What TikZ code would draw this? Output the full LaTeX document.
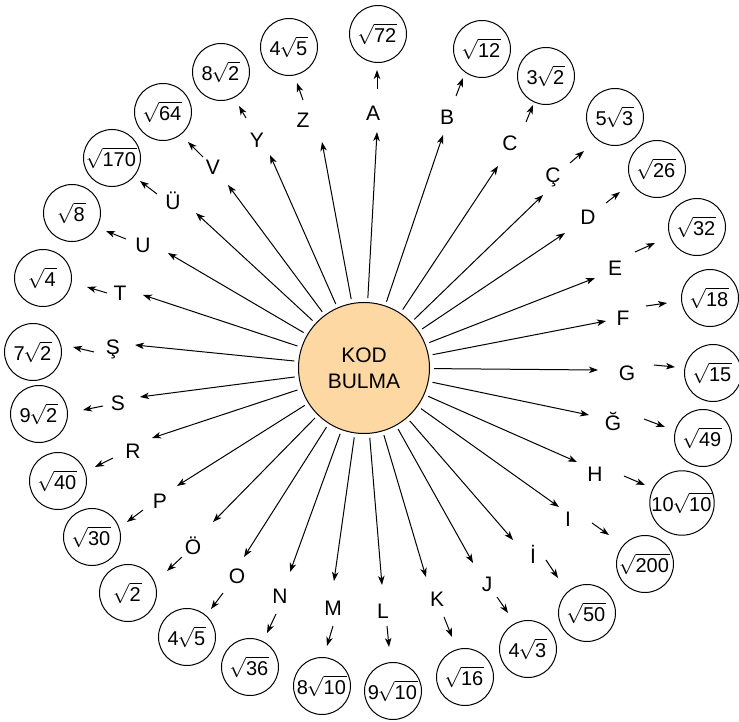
\documentclass[tikz,border=0pt]{standalone}
\usepackage{fix-cm}
\usepackage{amsmath}
\usepackage{fontspec}
\setmainfont{Liberation Sans}
\usetikzlibrary{arrows.meta}
\definecolor{kodfill}{RGB}{253,216,163}
\newcommand\valr[2]{$\text{#1}\mkern-1mu\sqrt{\text{#2}\mkern1mu}$}
\begin{document}
\begin{tikzpicture}[x=1pt,y=-1pt,
  arr/.style={line width=1pt,-{Stealth[length=9pt,width=6.5pt,inset=2.5pt]}},
  letterlbl/.style={anchor=base,inner sep=0pt,font=\fontsize{21}{24}\selectfont},
  valbox/.style={draw,circle,line width=1pt,minimum size=57pt,inner sep=0pt,font=\fontsize{20}{23}\selectfont},
  kodbox/.style={draw,circle,line width=1pt,fill=kodfill,minimum size=131pt,inner sep=0pt,align=center,font=\fontsize{21}{26}\selectfont}]
\useasboundingbox (0,0) rectangle (739,722);
\node[kodbox] (kod) at (364,368) {KOD\\BULMA};
\foreach \i/\lt/\lx/\ly/\tx/\ty/\ax/\ay/\bx/\by/\vx/\vy/\val in {
 1/A/373/121/377/132/377/89/377/70/378/34/{\valr{}{72}},
 2/B/447/125/443/135/456/96/463/78/482/49/{\valr{}{12}},
 3/C/510/151/498/166/526/122/533/105/546/76/{\valr{3}{2}},
 4/Ç/553/183/543/195/570/163/584/151/615/117/{\valr{5}{3}},
 5/D/588/225/565/233/606/203/620/192/657/169/{\valr{}{26}},
 6/E/615/275/595/278/635/252/655/243/697/227/{\valr{}{32}},
 7/F/623/325/606/321/646/306/667/303/710/298/{\valr{}{18}},
 8/G/627/380/598/370/654/365/675/367/713/373/{\valr{}{15}},
 9/Ğ/613/430/589/415/644/419/665/427/703/438/{\valr{}{49}},
 10/H/595/481/577/462/624/476/645/485/682/503/{\valr{10}{10}},
 11/I/568/526/559/507/592/523/609/535/645/564/{\valr{}{200}},
 12/İ/533/563/513/540/546/560/558/578/587/613/{\valr{}{50}},
 13/J/487/591/473/563/497/597/508/613/528/649/{\valr{4}{3}},
 14/K/437/606/426/577/444/617/452/637/465/677/{\valr{}{16}},
 15/L/383/618/382/585/387/626/389/647/393/691/{\valr{9}{10}},
 16/M/333/615/334/581/333/626/327/646/322/686/{\valr{8}{10}},
 17/N/280/603/290/572/276/614/267/633/250/667/{\valr{}{36}},
 18/O/237/583/244/557/223/593/211/609/187/637/{\valr{4}{5}},
 19/Ö/193/554/213/522/182/557/167/571/128/593/{\valr{}{2}},
 20/P/160/508/177/486/143/510/127/522/92/537/{\valr{}{30}},
 21/R/133/458/152/438/113/458/95/467/58/481/{\valr{}{40}},
 22/S/118/410/140/397/103/406/83/410/39/414/{\valr{9}{2}},
 23/Ş/113/354/135/345/94/352/73/347/33/352/{\valr{7}{2}},
 24/T/120/300/143/295/107/293/87/287/43/278/{\valr{}{4}},
 25/U/143/253/168/253/126/239/106/231/72/213/{\valr{}{8}},
 26/Ü/173/210/196/213/157/194/140/181/112/158/{\valr{}{170}},
 27/V/213/175/228/185/203/157/188/142/163/112/{\valr{}{64}},
 28/Y/257/148/270/155/246/118/239/106/221/72/{\valr{8}{2}},
 29/Z/303/128/322/142/303/100/297/83/289/47/{\valr{4}{5}}}{
  \node[letterlbl] (l\i) at (\lx,\ly) {\lt};
  \node[valbox] (v\i) at (\vx,\vy) {\val};
  \coordinate (t\i) at (\tx,\ty);
  \coordinate (sa\i) at (\ax,\ay);
  \coordinate (sb\i) at (\bx,\by);
  \draw[arr,shorten <=4pt] (kod) -- (t\i);
  \draw[arr] (sa\i) -- (sb\i);
}
\end{tikzpicture}
\end{document}
